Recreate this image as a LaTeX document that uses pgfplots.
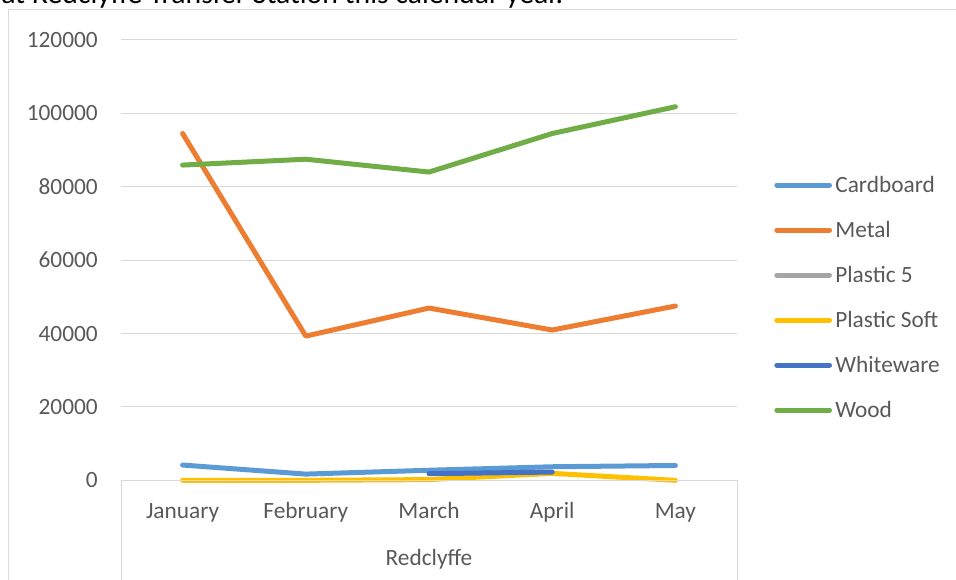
\documentclass[border=0pt]{standalone}
\usepackage{pgfplots}
\pgfplotsset{compat=1.18}
\usepackage{fontspec}
\setmainfont{Carlito}
\definecolor{gridcol}{HTML}{D9D9D9}
\definecolor{textgray}{HTML}{595959}
\definecolor{cCardboard}{HTML}{5B9BD5}
\definecolor{cMetal}{HTML}{ED7D31}
\definecolor{cPlastic}{HTML}{A5A5A5}
\definecolor{cSoft}{HTML}{FFC000}
\definecolor{cWhite}{HTML}{4472C4}
\definecolor{cWood}{HTML}{70AD47}
\tikzset{ser/.style={line width=3.75pt, line cap=round, line join=round, mark=none}}
\begin{document}
\begin{tikzpicture}
\begin{axis}[
  at={(90.75pt,74pt)}, anchor=south west,
  scale only axis, width=462pt, height=330.3pt,
  xmin=-0.5, xmax=4.5, ymin=0, ymax=120000,
  clip=false,
  xtick={0,1,2,3,4},
  xticklabels={January,February,March,April,May},
  ytick={0,20000,40000,60000,80000,100000,120000},
  scaled y ticks=false,
  /pgf/number format/fixed,
  /pgf/number format/precision=0,
  /pgf/number format/1000 sep={},
  /pgf/number format/assume math mode=true,
  axis line style={draw=none},
  major tick length=0pt,
  ymajorgrids, grid style={gridcol, line width=0.75pt},
  tick label style={font=\fontsize{17.5}{21}\selectfont, text=textgray, inner sep=0pt},
  yticklabel style={anchor=east, xshift=-17.25pt},
  xticklabel style={anchor=base, yshift=-28.5pt},
  legend style={
    at={(1.0606,0.691)}, anchor=north west, draw=none, fill=none,
    inner sep=0pt, outer sep=0pt, row sep=17.75pt, column sep=2.5pt,
    font=\fontsize{17.5}{21}\selectfont, text=textgray,
    nodes={inner sep=0pt, text height=12pt, text depth=4pt, anchor=base west},
  },
  legend cell align=left,
  legend image code/.code={\draw[#1, line cap=round, line width=3.75pt] (0pt,5.25pt) -- (39.5pt,5.25pt);},
]
\addplot[cCardboard, ser] coordinates {(0,4170) (1,1700) (2,2750) (3,3700) (4,4050)};
\addlegendentry{Cardboard}
\addplot[cMetal, ser] coordinates {(0,94500) (1,39300) (2,46950) (3,40950) (4,47500)};
\addlegendentry{Metal}
\addlegendimage{cPlastic}
\addlegendentry{Plastic 5}
\addplot[cSoft, ser] coordinates {(0,0) (1,0) (2,200) (3,1900) (4,0)};
\addlegendentry{Plastic Soft}
\addplot[cWhite, ser] coordinates {(2,1800) (3,2260)};
\addlegendentry{Whiteware}
\addplot[cWood, ser] coordinates {(0,85900) (1,87500) (2,84000) (3,94500) (4,101800)};
\addlegendentry{Wood}
\draw[gridcol, line width=0.75pt] (rel axis cs:0,0) -- (rel axis cs:1,0);
\draw[gridcol, line width=0.75pt] (rel axis cs:0,0) -- ([yshift=-80pt]rel axis cs:0,0);
\draw[gridcol, line width=0.75pt] (rel axis cs:1,0) -- ([yshift=-80pt]rel axis cs:1,0);
\node[anchor=base, inner sep=0pt, text=textgray, font=\fontsize{17.5}{21}\selectfont] at ([yshift=-63.5pt]rel axis cs:0.5,0) {Redclyffe};
\end{axis}
\draw[gridcol, line width=0.75pt] (6pt,-5pt) -- (6pt,426.75pt) -- (725pt,426.75pt);
\node[anchor=base west, inner sep=0pt, font=\fontsize{22.3}{26}\selectfont] at (0.75pt,431.25pt) {at Redclyffe Transfer Station this calendar year.};
\pgfresetboundingbox
\useasboundingbox (0,0) rectangle (717pt,434.25pt);
\end{tikzpicture}
\end{document}
